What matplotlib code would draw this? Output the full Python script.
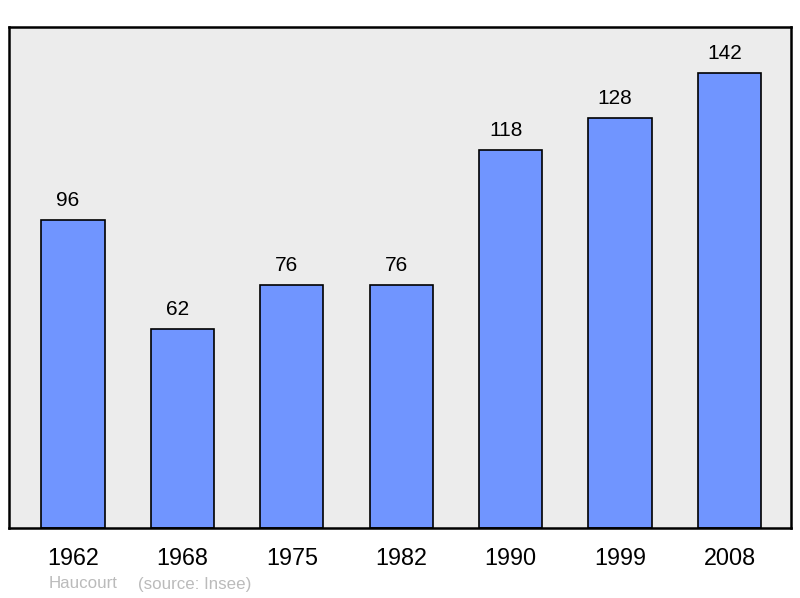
import matplotlib
matplotlib.use("Agg")
import matplotlib.pyplot as plt

years = ["1962", "1968", "1975", "1982", "1990", "1999", "2008"]
population = [96, 62, 76, 76, 118, 128, 142]
footer_place = "Haucourt"
footer_source = "(source: Insee)"

plt.rcParams['font.family'] = ['Liberation Sans', 'DejaVu Sans']

fig = plt.figure(figsize=(8.0, 5.98), dpi=100)
ax = fig.add_axes([9/800, 1-528/598, 782/800, 501/598])
ax.set_facecolor('#ECECEC')

x = list(range(len(years)))
ax.bar(x, population, width=0.578, color='#7095FF', edgecolor='black', linewidth=1.2, zorder=2)
for xi, v in zip(x, population):
    ax.annotate(str(v), (xi, v), xytext=(-3.6, 10.1), textcoords='offset points',
                ha='center', va='baseline', fontsize=15, color='black')

ax.set_xlim(-0.585, 6.562)
ax.set_ylim(0, 156.4)
ax.set_xticks(x)
ax.set_xticklabels(years, fontsize=16.8)
ax.tick_params(axis='x', length=0, pad=14)
ax.set_yticks([])
for s in ax.spines.values():
    s.set_linewidth(1.8)
    s.set_color('black')

fig.text(49/800, 1-584/598, footer_place, fontsize=12.2, color='#BBBBBB', ha='left', va='center')
fig.text(138/800, 1-584/598, footer_source, fontsize=12.2, color='#BBBBBB', ha='left', va='center')

fig.savefig('out.png', dpi=100)
